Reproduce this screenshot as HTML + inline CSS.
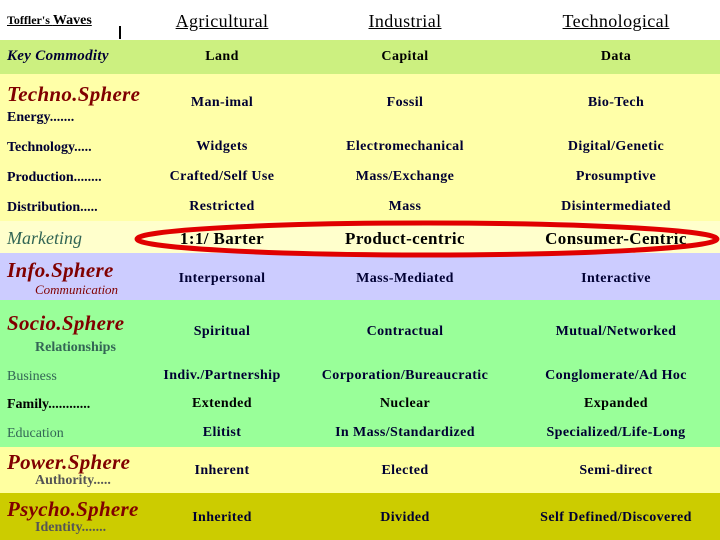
<!DOCTYPE html>
<html><head><meta charset="utf-8"><style>
body{margin:0;width:720px;height:540px;overflow:hidden;position:relative;background:#fff;font-family:"Liberation Serif",serif;font-weight:bold;color:#000033}
.b{position:absolute;left:0;width:720px}
.t{position:absolute;white-space:nowrap;font-size:14px}
.c{transform:translateX(-50%)}
.s{font-style:italic;color:#800000;font-size:21px}
</style></head><body>
<div class="b" style="top:0;height:40px;background:#fff"></div>
<div class="b" style="top:40px;height:34px;background:#ccf080"></div>
<div class="b" style="top:74px;height:147px;background:#ffffa8"></div>
<div class="b" style="top:221px;height:32px;background:#ffffcc"></div>
<div class="b" style="top:253px;height:47px;background:#ccccff"></div>
<div class="b" style="top:300px;height:147px;background:#99ff99"></div>
<div class="b" style="top:447px;height:46px;background:#ffffa0"></div>
<div class="b" style="top:493px;height:47px;background:#cccc00"></div>
<div style="position:absolute;left:119px;top:26px;width:2px;height:13px;background:#000"></div>

<div class="t" style="left:7px;top:13px;font-size:12px;text-decoration:underline;color:#000">Toffler's <span style="font-size:14px">Waves</span></div>
<div class="t c" style="left:222px;top:11px;font-size:18px;font-weight:normal;text-decoration:underline;color:#000;letter-spacing:0.4px">Agricultural</div>
<div class="t c" style="left:405px;top:11px;font-size:18px;font-weight:normal;text-decoration:underline;color:#000;letter-spacing:0.4px">Industrial</div>
<div class="t c" style="left:616px;top:11px;font-size:18px;font-weight:normal;text-decoration:underline;color:#000;letter-spacing:0.4px">Technological</div>

<div class="t" style="left:7px;top:48px;font-style:italic;font-size:15px;letter-spacing:0.3px">Key Commodity</div>
<div class="t s" style="left:7px;top:82px;letter-spacing:0.3px">Techno.Sphere</div>
<div class="t" style="left:7px;top:110px">Energy.......</div>
<div class="t" style="left:7px;top:140px">Technology.....</div>
<div class="t" style="left:7px;top:170px">Production........</div>
<div class="t" style="left:7px;top:200px">Distribution.....</div>
<div class="t" style="left:7px;top:228px;font-style:italic;font-size:18px;font-weight:normal;color:#336655">Marketing</div>
<div class="t s" style="left:7px;top:258px;letter-spacing:0.3px">Info.Sphere</div>
<div class="t" style="left:35px;top:282px;font-style:italic;font-size:13px;font-weight:normal;color:#800000">Communication</div>
<div class="t s" style="left:7px;top:311px;letter-spacing:0.3px">Socio.Sphere</div>
<div class="t" style="left:35px;top:340px;color:#336655">Relationships</div>
<div class="t" style="left:7px;top:369px;font-weight:normal;color:#336655">Business</div>
<div class="t" style="left:7px;top:397px;color:#000">Family............</div>
<div class="t" style="left:7px;top:426px;font-weight:normal;color:#336655">Education</div>
<div class="t s" style="left:7px;top:450px;letter-spacing:0.3px">Power.Sphere</div>
<div class="t" style="left:35px;top:473px;color:#555">Authority.....</div>
<div class="t s" style="left:7px;top:497px;letter-spacing:0.3px">Psycho.Sphere</div>
<div class="t" style="left:35px;top:520px;color:#555">Identity.......</div>

<div id="cells"></div>
<svg style="position:absolute;left:0;top:0" width="720" height="540"><ellipse cx="427" cy="239" rx="290" ry="16" fill="none" stroke="#e00000" stroke-width="5"/></svg>
<script>
const rowsY=[57,103,147,177,207,239,279,332,376,404,433,471,518];
const cells=[
["Land","Capital","Data"],
["Man-imal","Fossil","Bio-Tech"],
["Widgets","Electromechanical","Digital/Genetic"],
["Crafted/Self Use","Mass/Exchange","Prosumptive"],
["Restricted","Mass","Disintermediated"],
["1:1/ Barter","Product-centric","Consumer-Centric"],
["Interpersonal","Mass-Mediated","Interactive"],
["Spiritual","Contractual","Mutual/Networked"],
["Indiv./Partnership","Corporation/Bureaucratic","Conglomerate/Ad Hoc"],
["Extended","Nuclear","Expanded"],
["Elitist","In Mass/Standardized","Specialized/Life-Long"],
["Inherent","Elected","Semi-direct"],
["Inherited","Divided","Self Defined/Discovered"]];
const colX=[222,405,616];
const box=document.getElementById('cells');
cells.forEach((r,i)=>r.forEach((txt,j)=>{
 const d=document.createElement('div');
 
 
 d.className='t c';
 d.style.left=colX[j]+'px';
 const fs=i==5?17:14;
 d.style.fontSize=fs+'px';
 d.style.letterSpacing='0.4px';
 d.style.top=(rowsY[i]-fs*0.6)+'px';
 if(i==0||i==9||i==5)d.style.color='#000';
 d.textContent=txt;box.appendChild(d);
}));
</script>
</body></html>
